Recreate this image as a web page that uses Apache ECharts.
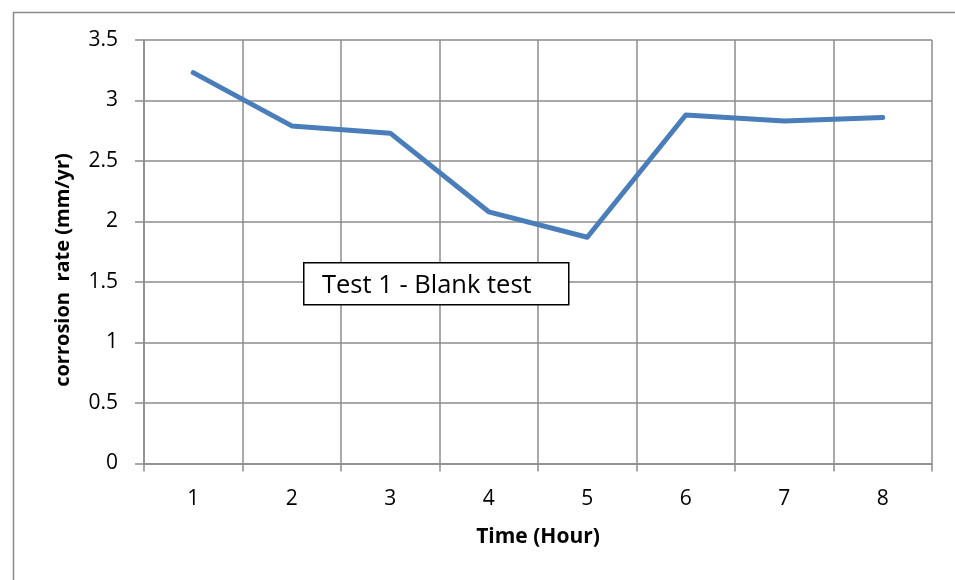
<!DOCTYPE html>
<html>
<head>
<meta charset="utf-8">
<script src="https://cdn.jsdelivr.net/npm/echarts@6/dist/echarts.min.js"></script>
<style>html,body{margin:0;padding:0;background:#fff;}#c{width:955px;height:580px;}</style>
</head>
<body>
<div id="c"></div>
<script>
var categories = ['1','2','3','4','5','6','7','8'];
var corrosionRate = [3.23, 2.79, 2.73, 2.08, 1.87, 2.88, 2.83, 2.86];
var xTitle = 'Time (Hour)';
var yTitle = 'corrosion  rate (mm/yr)';
var boxText = 'Test 1 - Blank test';

var FONT = '"Open Sans", "Noto Sans", sans-serif';
var chart = echarts.init(document.getElementById('c'), null, {renderer: 'canvas'});
var gridColor = '#8c8c8c';
chart.setOption({
  animation: false,
  backgroundColor: '#fff',
  grid: {left: 144, top: 40, right: 23, bottom: 116.5, containLabel: false},
  xAxis: {
    type: 'category',
    data: categories,
    boundaryGap: true,
    name: xTitle,
    nameLocation: 'middle',
    nameGap: 63,
    nameTextStyle: {fontFamily: FONT, fontSize: 21, fontWeight: 'bold', color: '#000'},
    axisLine: {show: true, lineStyle: {color: gridColor, width: 1.5}},
    axisTick: {show: true, length: 8, alignWithLabel: false, lineStyle: {color: gridColor, width: 1.5}},
    axisLabel: {fontFamily: FONT, fontSize: 21, color: '#000', margin: 25},
    splitLine: {show: true, lineStyle: {color: gridColor, width: 1.5}}
  },
  yAxis: {
    type: 'value',
    min: 0, max: 3.5, interval: 0.5,
    axisLine: {show: true, lineStyle: {color: gridColor, width: 1.5}},
    axisTick: {show: true, length: 9, lineStyle: {color: gridColor, width: 1.5}},
    axisLabel: {fontFamily: FONT, fontSize: 21, color: '#000', margin: 26},
    splitLine: {show: true, lineStyle: {color: gridColor, width: 1.5}}
  },
  series: [{
    type: 'line',
    data: corrosionRate,
    symbol: 'none',
    lineStyle: {color: '#4a7ebb', width: 5, cap: 'round', join: 'round'},
    z: 3
  }],
  graphic: [
    {type: 'rect', left: 11, top: 10, z: 0, silent: true,
     shape: {width: 960, height: 600}, style: {fill: 'none', stroke: '#8c8c8c', lineWidth: 1.5}},
    {type: 'text', x: 63, y: 270, rotation: Math.PI / 2, z: 50, silent: true,
     style: {text: yTitle, fill: '#000', font: 'bold 20px ' + FONT, align: 'center', verticalAlign: 'middle'}},
    {type: 'rect', left: 303, top: 262, z: 100, silent: true,
     shape: {width: 265, height: 42}, style: {fill: '#fff', stroke: '#000', lineWidth: 1.5}},
    {type: 'text', left: 322, top: 273, z: 101, silent: true,
     style: {text: boxText, fill: '#000', font: '25.5px ' + FONT}}
  ]
});
</script>
</body>
</html>
